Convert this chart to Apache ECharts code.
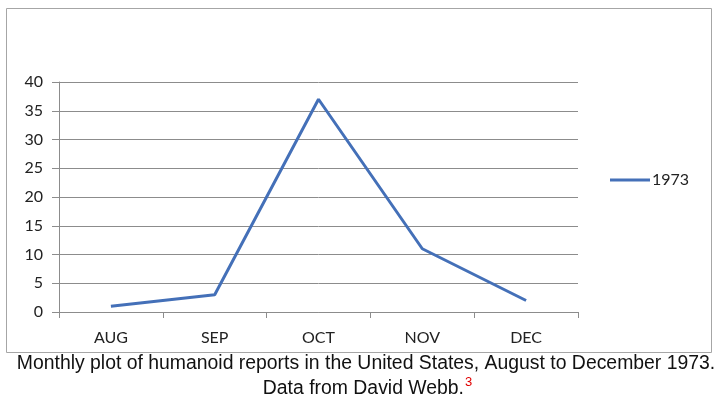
<!DOCTYPE html>
<html><head><meta charset="utf-8">
<script src="https://cdn.jsdelivr.net/npm/echarts@6/dist/echarts.min.js"></script>
<style>html,body{margin:0;padding:0;background:#fff}#c{width:720px;height:414px}</style>
</head><body><div id="c"></div>
<script>
const categories = ['AUG', 'SEP', 'OCT', 'NOV', 'DEC'];
const seriesName = '1973';
const values1973 = [1, 3, 37, 11, 2];
const captionLine1 = 'Monthly plot of humanoid reports in the United States, August to December 1973.';
const captionLine2 = 'Data from David Webb.';
const captionRef = '3';

const chart = echarts.init(document.getElementById('c'));
const labelFont = 'Lato, "Open Sans", sans-serif';
const capFont = '19.4px "Liberation Sans", Arial, sans-serif';
chart.setOption({
  animation: false,
  backgroundColor: '#fff',
  grid: { left: 59, right: 142, top: 82, bottom: 102 },
  legend: {
    data: [{ name: seriesName, icon: 'rect' }],
    left: 610, top: 172, padding: 0,
    itemWidth: 40, itemHeight: 3, itemGap: 4,
    textStyle: { fontFamily: labelFont, fontSize: 16, color: '#222', padding: [0,0,0,-3] }
  },
  xAxis: {
    type: 'category', data: categories, boundaryGap: true,
    axisLine: { lineStyle: { color: '#8c8c8c', width: 1 } },
    axisTick: { show: true, length: 6, lineStyle: { color: '#8c8c8c' } },
    axisLabel: { fontFamily: labelFont, fontSize: 16, color: '#222', margin: 18 }
  },
  yAxis: {
    type: 'value', min: 0, max: 40, interval: 5,
    axisLine: { show: true, lineStyle: { color: '#8c8c8c', width: 1 } },
    axisTick: { show: true, length: 7, lineStyle: { color: '#8c8c8c' } },
    splitLine: { lineStyle: { color: '#8c8c8c', width: 1 } },
    axisLabel: { fontFamily: labelFont, fontSize: 16, color: '#222', margin: 16 }
  },
  series: [{
    name: seriesName, type: 'line', data: values1973,
    symbol: 'none',
    lineStyle: { color: '#4470b8', width: 3 },
    itemStyle: { color: '#4470b8' }
  }],
  graphic: [
    { type: 'rect', shape: { x: 6.5, y: 8.5, width: 705, height: 344 },
      style: { fill: 'none', stroke: '#a6a6a6', lineWidth: 1 }, silent: true },
    { type: 'text', x: 366, y: 354,
      style: { text: captionLine1, textAlign: 'center', textVerticalAlign: 'top', font: capFont, fill: '#111' } },
    { type: 'text', x: 464, y: 379,
      style: { text: captionLine2, textAlign: 'right', textVerticalAlign: 'top', font: capFont, fill: '#111' } },
    { type: 'text', x: 465, y: 376,
      style: { text: captionRef, textAlign: 'left', textVerticalAlign: 'top', font: '13px "Liberation Sans", Arial, sans-serif', fill: '#e00000' } }
  ]
});
</script></body></html>
